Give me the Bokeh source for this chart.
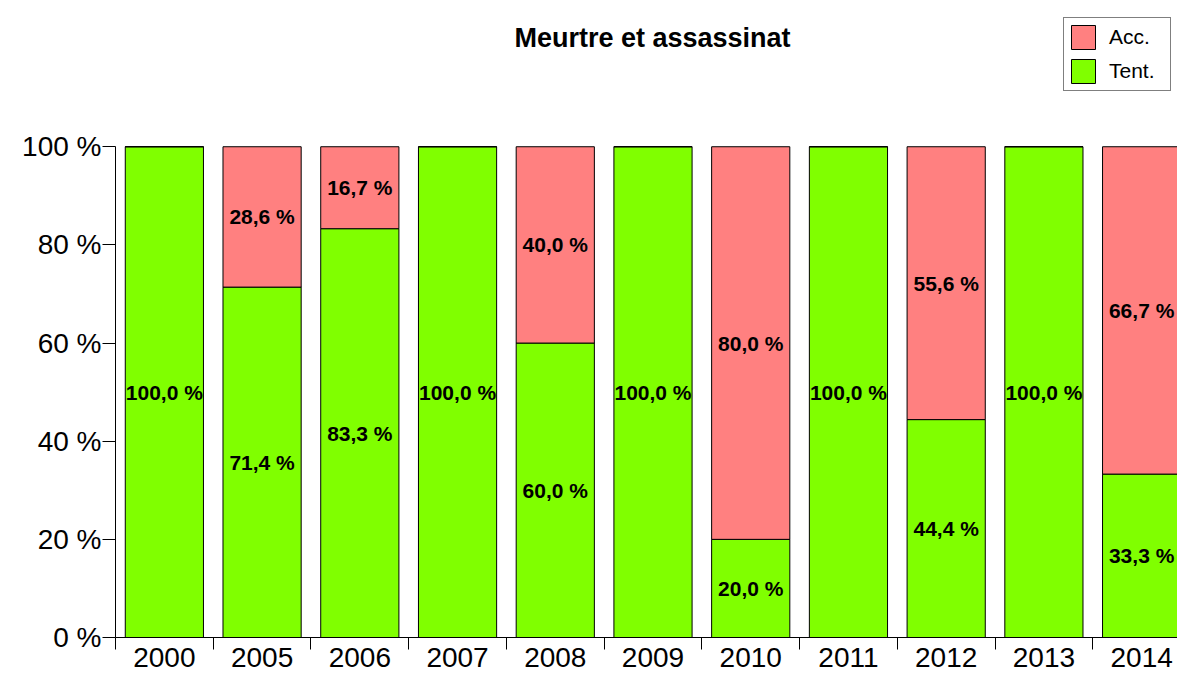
from bokeh.plotting import figure
from bokeh.models import (Range1d, FixedTicker, PrintfTickFormatter, ColumnDataSource,
                          Legend, LegendItem, Label)
from bokeh.core.properties import value
from bokeh.embed import file_html
from bokeh.resources import INLINE

# ---- data ----
years = ["2000", "2005", "2006", "2007", "2008", "2009", "2010", "2011", "2012", "2013", "2014"]
tent = [100.0, 71.4, 83.3, 100.0, 60.0, 100.0, 20.0, 100.0, 44.4, 100.0, 33.3]
acc = [0.0, 28.6, 16.7, 0.0, 40.0, 0.0, 80.0, 0.0, 55.6, 0.0, 66.7]
y_ticks = [0, 20, 40, 60, 80, 100]
title_text = "Meurtre et assassinat"

FONT = "Liberation Sans"
GREEN = "#80FF00"
RED = "#FF8080"

n = len(years)
centers = [i + 0.5 for i in range(n)]
bounds = list(range(n + 1))

src = ColumnDataSource(dict(
    x=centers, tent=tent, acc=acc,
    top=[t + a for t, a in zip(tent, acc)],
))

p = figure(width=1177, height=679,
           x_range=Range1d(0, 10.867), y_range=Range1d(0, 129.8),
           output_backend="svg", toolbar_location=None,
           min_border_left=115, min_border_right=0,
           min_border_top=0, min_border_bottom=42)
p.outline_line_color = None
p.xgrid.visible = False
p.ygrid.visible = False
p.background_fill_color = "white"
p.border_fill_color = "white"

r_t = p.vbar(x="x", width=0.8, bottom=0, top="tent", fill_color=GREEN,
             line_color="black", line_width=1, source=src)
r_a = p.vbar(x="x", width=0.8, bottom="tent", top="top", fill_color=RED,
             line_color="black", line_width=1, source=src)

# segment labels
lx, ly, lt = [], [], []
for c, t, a in zip(centers, tent, acc):
    if t > 0:
        lx.append(c); ly.append(t / 2.0)
        lt.append(f"{t:.1f}".replace(".", ",") + " %")
    if a > 0:
        lx.append(c); ly.append(t + a / 2.0)
        lt.append(f"{a:.1f}".replace(".", ",") + " %")
p.text(x=lx, y=ly, text=lt, text_font=value(FONT), text_font_style="bold",
       text_font_size="21px", text_align="center", text_baseline="middle",
       text_color="black")

# x axis
xa = p.xaxis[0]
xa.ticker = FixedTicker(ticks=centers, minor_ticks=bounds)
xa.major_label_overrides = {c: y for c, y in zip(centers, years)}
xa.major_tick_line_color = None
xa.major_tick_out = 12
xa.major_tick_in = 0
xa.minor_tick_out = 12
xa.minor_tick_in = 0
xa.minor_tick_line_color = "black"
xa.axis_line_color = "black"
xa.major_label_standoff = -2
xa.major_label_text_font = FONT
xa.major_label_text_font_size = "28px"
xa.major_label_text_color = "black"

# y axis
ya = p.yaxis[0]
ya.ticker = FixedTicker(ticks=y_ticks)
ya.formatter = PrintfTickFormatter(format="%d %%")
ya.bounds = (0, 100)
ya.major_tick_out = 13
ya.major_tick_in = 0
ya.minor_tick_line_color = None
ya.axis_line_color = "black"
ya.major_tick_line_color = "black"
ya.major_label_standoff = 1
ya.major_label_text_font = FONT
ya.major_label_text_font_size = "28px"
ya.major_label_text_color = "black"

# title as label
p.add_layout(Label(x=537, y=600, x_units="screen", y_units="screen", text=title_text,
                   text_font=FONT, text_font_style="bold", text_font_size="27px",
                   text_align="center", text_baseline="alphabetic", text_color="black"))

legend = Legend(items=[LegendItem(label="Acc.", renderers=[r_a]),
                       LegendItem(label="Tent.", renderers=[r_t])],
                location=(948, 546), glyph_width=30, glyph_height=30,
                label_standoff=11, padding=4, spacing=4, margin=0,
                label_height=30, label_width=57,
                label_text_font=FONT, label_text_font_size="21px",
                label_text_baseline="middle", label_text_color="black",
                border_line_color="black", border_line_width=1,
                background_fill_color="white", background_fill_alpha=1)
p.add_layout(legend)

open("out.html", "w").write(file_html(p, INLINE))
